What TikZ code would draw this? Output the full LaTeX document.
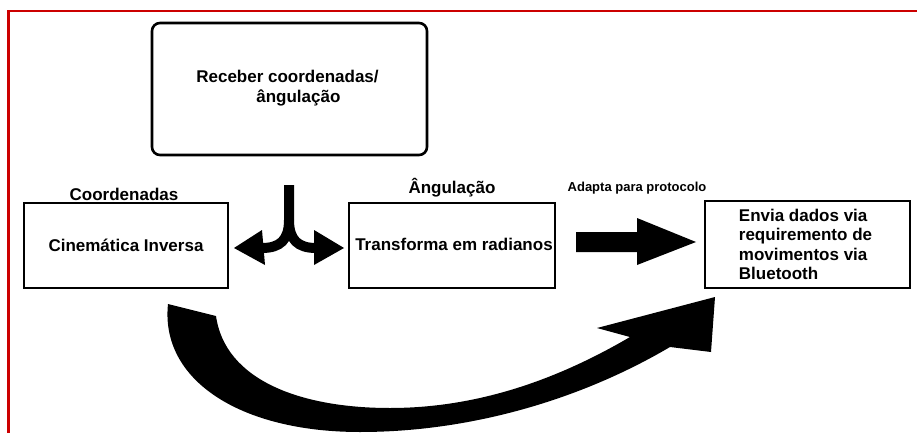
\documentclass[tikz,border=0pt]{standalone}
\usepackage{fontspec}
\setmainfont{Liberation Sans}
\definecolor{framered}{RGB}{204,0,0}
\begin{document}
\begin{tikzpicture}[x=1pt,y=-1pt,
  box/.style={draw, line width=2.6pt, inner sep=0pt},
  txt/.style={font=\fontsize{17}{19.5}\selectfont\bfseries, inner sep=0pt},
  smalltxt/.style={font=\fontsize{13}{15}\selectfont\bfseries, inner sep=0pt},
  blk/.style={fill=black, draw=none}]
\useasboundingbox (0,0) rectangle (917,433);
\draw[framered, line width=2.2pt] (8.5,433) -- (8.5,11) -- (917,11);

% boxes
\node[box, rounded corners=8pt, minimum width=275pt, minimum height=132pt] (top) at (289.5,89) {};
\node[txt, align=left] (toptext) at (287.5,88) {Receber coordenadas/\\\hspace*{60pt}ângulação};

\node[box, minimum width=204pt, minimum height=85pt] (cin) at (126,245.5) {};
\node[txt] (cintext) at (cin.center) {Cinemática Inversa};
\node[txt] (coord) at (124,194) {Coordenadas};

\node[box, minimum width=206pt, minimum height=85pt] (rad) at (452,245.5) {};
\node[txt] (radtext) at (454,244) {Transforma em radianos};
\node[txt] (ang) at (452,188) {Ângulação};

\node[smalltxt] (adapta) at (637,188) {Adapta para protocolo};

\node[box, minimum width=205pt, minimum height=87pt] (bt) at (807.5,244.5) {};
\node[txt, align=left, anchor=west] (bttext) at ([xshift=35pt]bt.west) {Envia dados via\\requiremento de\\movimentos via\\Bluetooth};

% fork arrow
\coordinate (stemtop) at (289,185);
\coordinate (split) at (289,220);
\draw[line width=10pt] (stemtop) -- (split) .. controls (289,240) and (280,248) .. (262,248);
\draw[line width=10pt] (split) .. controls (289,240) and (298,248) .. (316,248);
\fill (262,230) -- (234,248) -- (265,265) -- cycle;
\fill (314,230) -- (344,248) -- (314,265) -- cycle;

% straight arrow
\fill (576,232) -- (637,232) -- (637,218) -- (696,242) -- (637,265) -- (637,252) -- (576,252) -- cycle;

% curved arrow
\fill (168,304) -- (216,316)
  .. controls (225,380) and (300,408) .. (390,408)
  .. controls (480,408) and (560,378) .. (630,337)
  -- (597,328) -- (715,297) -- (711,352) -- (670,347)
  .. controls (580,400) and (470,432) .. (360,432)
  .. controls (240,432) and (160,380) .. (168,304) -- cycle;
\end{tikzpicture}
\end{document}
